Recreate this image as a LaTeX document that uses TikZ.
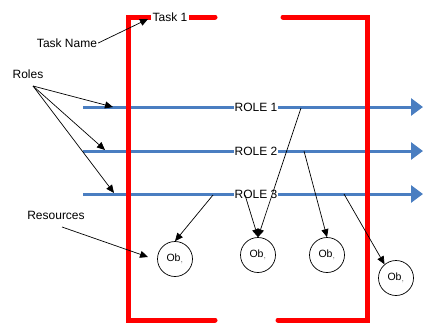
\documentclass[tikz,border=0pt]{standalone}
\usepackage{fontspec}
\setmainfont{Liberation Sans}
\usetikzlibrary{arrows.meta}
\definecolor{bracketred}{RGB}{255,0,0}
\definecolor{roleblue}{RGB}{74,126,193}
\begin{document}
\begin{tikzpicture}[x=1pt,y=-1pt,
  bracket/.style={draw=bracketred,line width=5pt,line cap=round,line join=miter},
  roleline/.style={draw=roleblue,line width=3pt,-{Triangle[length=12pt,width=17pt]}},
  rolelabel/.style={fill=white,inner sep=1pt,font=\fontsize{12}{14}\selectfont},
  callout/.style={inner sep=1pt,font=\fontsize{12}{14}\selectfont},
  pointer/.style={draw=black,line width=0.7pt,-{Triangle[length=8pt,width=7pt]}},
  obj/.style={circle,draw=black,line width=0.7pt,minimum size=35pt,inner sep=0pt,
    font=\fontsize{10.5}{12}\selectfont}]
\useasboundingbox (0,0) rectangle (423,322);

% role swim lines
\coordinate (r1start) at (83,107);  \coordinate (r1end) at (423,107);
\coordinate (r2start) at (83,151);  \coordinate (r2end) at (423,151);
\coordinate (r3start) at (83,194);  \coordinate (r3end) at (423,194);
\draw[roleline] (r1start) -- (r1end);
\draw[roleline] (r2start) -- (r2end);
\draw[roleline] (r3start) -- (r3end);

% task brackets
\draw[bracket] (215,17) -- (128,17) -- (128,320) -- (215,320);
\draw[bracket] (283,17) -- (367,17) -- (367,320) -- (278,320);

% labels
\node[callout,fill=white,inner sep=2pt] (task1) at (170,17) {Task 1};
\node[rolelabel] (role1) at (256,107) {ROLE 1};
\node[rolelabel] (role2) at (256,151) {ROLE 2};
\node[rolelabel] (role3) at (256,194) {ROLE 3};

\node[callout] (taskname) at (67,43) {Task Name};
\node[callout] (roles) at (28,74) {Roles};
\node[callout] (resources) at (56,215) {Resources};

% resources
\node[obj] (ob1) at (175,259) {Ob$_{,}$};
\node[obj] (ob2) at (258,255) {Ob$_{,}$};
\node[obj] (ob3) at (327,255) {Ob$_{,}$};
\node[obj] (ob4) at (396,278) {Ob$_{,}$};

% annotation pointers
\coordinate (rolesfoot) at (33,86);
\coordinate (tip1) at (113,107);
\coordinate (tip2) at (105,150);
\coordinate (tip3) at (114,193);
\coordinate (resfoot) at (62,227);
\coordinate (restip) at (148,257);
\draw[pointer] (taskname.east) -- (148,19);
\draw[pointer] (rolesfoot) -- (tip1);
\draw[pointer] (rolesfoot) -- (tip2);
\draw[pointer] (rolesfoot) -- (tip3);
\draw[pointer] (resfoot) -- (restip);

% role to resource assignments
\coordinate (a1) at (213,195);
\coordinate (a2) at (301,108);
\coordinate (a3) at (245,195);
\coordinate (a4) at (304,151);
\coordinate (a5) at (344,194);
\draw[pointer] (a1) -- (ob1.north);
\draw[pointer] (a2) -- (ob2.north);
\draw[pointer] (a3) -- (ob2.north);
\draw[pointer] (a4) -- (ob3.north);
\draw[pointer] (a5) -- (ob4.130);
\end{tikzpicture}
\end{document}
